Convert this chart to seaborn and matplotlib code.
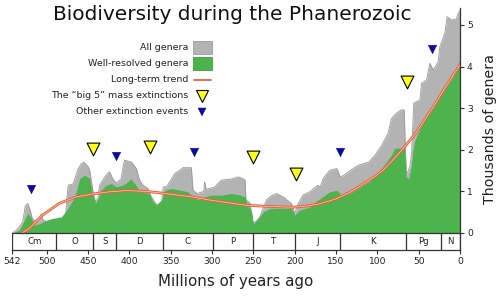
import matplotlib
matplotlib.use("Agg")
import matplotlib.pyplot as plt
import seaborn as sns
import numpy as np
from matplotlib.patches import Rectangle
from matplotlib.lines import Line2D

sns.set_style("white")
plt.rcParams['font.family'] = ['DejaVu Sans']

# ---- data (Ma, thousands of genera) ----
all_t = [542, 536, 533, 529, 526, 523, 520, 517.6, 515, 508, 506.6, 505, 500, 490, 482, 477, 476, 474,
         468, 462, 458, 455, 450, 448, 444, 441, 438, 436, 428, 424, 420, 416, 410, 408, 406, 397.6,
         391.6, 387.6, 383.6, 377.5, 373.4, 367, 361, 359, 355, 345, 335, 325, 323, 318, 310, 309, 307,
         297, 289, 276.5, 268.5, 262, 260, 259, 254, 250.4, 246, 242, 234, 228, 222, 214, 204, 200, 196,
         190, 182, 172, 169, 165.6, 157.5, 149, 145, 141, 133, 123, 110, 103, 95, 87, 83, 77, 71, 67.5,
         66, 64.5, 60.6, 58.5, 56, 48.5, 46.5, 40.5, 36.4, 32.4, 26.4, 24.4, 18.4, 15.6, 10.3, 4.3, 2.3, 0]
all_v = [0, 0.08, 0.15, 0.27, 0.65, 0.71, 0.55, 0.36, 0.3, 0.32, 0.47, 0.33, 0.27, 0.25, 0.3, 0.45, 0.75, 1.15,
         1.18, 1.55, 1.67, 1.7, 1.6, 1.5, 1.0, 0.75, 0.85, 1.15, 1.4, 1.47, 1.3, 1.2, 1.3, 1.55, 1.75, 1.71,
         1.55, 1.27, 1.15, 1.07, 0.87, 0.67, 0.75, 1.11, 1.11, 1.43, 1.57, 1.57, 1.03, 0.95, 1.0, 1.23, 1.05,
         1.1, 1.27, 1.3, 1.35, 1.3, 1.27, 0.8, 0.72, 0.23, 0.3, 0.4, 0.8, 0.9, 0.95, 0.87, 0.71, 0.47, 0.7,
         0.91, 0.99, 1.15, 1.11, 1.31, 1.51, 1.55, 1.35, 1.38, 1.5, 1.63, 1.71, 1.87, 2.1, 2.4, 2.75, 2.88, 2.96, 2.96,
         1.92, 1.4, 1.6, 1.95, 3.12, 3.2, 3.6, 3.68, 4.08, 3.92, 4.12, 4.48, 4.8, 5.2, 5.12, 5.15, 5.28, 5.35]

well_t = [542, 533, 528, 523, 519, 515, 509, 500, 493, 482, 476, 472, 466, 460, 454, 448, 445, 441, 437,
          434, 428, 422, 416, 408, 402, 398, 394, 388, 382, 376, 371.5, 367, 361, 357, 349, 339, 329, 323,
          317, 309, 301, 289, 276.5, 266, 260, 258, 252, 250, 246, 238, 230, 218, 204, 200, 194, 182, 175,
          169, 157.5, 149, 143, 133, 121, 110, 93.5, 83, 79, 67, 65.5, 62, 59, 57, 54.5, 48.5, 36.4, 28,
          16, 8, 2, 0]
well_v = [0, 0.07, 0.27, 0.47, 0.37, 0.19, 0.22, 0.31, 0.35, 0.39, 0.55, 0.67, 0.87, 1.31, 1.39, 1.31, 0.95, 0.71, 0.87,
          1.03, 1.15, 1.19, 1.11, 1.15, 1.23, 1.3, 1.2, 1.03, 0.97, 0.95, 0.75, 0.67, 0.8, 1.03, 1.07, 1.03, 0.99, 0.87,
          0.8, 0.87, 0.91, 0.91, 0.95, 0.91, 0.87, 0.72, 0.5, 0.23, 0.3, 0.51, 0.59, 0.59, 0.59, 0.43, 0.55, 0.62, 0.75,
          0.83, 0.99, 1.03, 0.9, 0.95, 1.1, 1.23, 1.59, 1.87, 2.04, 2.04, 1.35, 1.3, 1.6, 2.0, 2.23, 2.5, 2.96, 3.2,
          3.52, 3.76, 4.08, 4.2]

trend_t = [530, 521, 505, 485, 464, 444, 424, 403, 380, 365, 345, 325, 305, 285, 260, 242, 220, 202, 185,
           170, 150, 133, 121, 105, 93, 80, 67, 52, 32, 12, 0]
trend_v = [0, 0.11, 0.43, 0.71, 0.87, 0.94, 0.99, 1.02, 1.0, 0.97, 0.92, 0.87, 0.80, 0.74, 0.67, 0.65, 0.63,
           0.62, 0.65, 0.70, 0.82, 0.98, 1.13, 1.33, 1.51, 1.78, 2.07, 2.44, 3.04, 3.68, 4.04]

big5_t = [444, 374.6, 250.4, 199, 64.5]
big5_v = [2.03, 2.06, 1.82, 1.42, 3.64]
other_t = [518.7, 415.8, 322, 145.4, 33.6]
other_v = [1.05, 1.85, 1.94, 1.94, 4.42]

periods = ["Cm", "O", "S", "D", "C", "P", "T", "J", "K", "Pg", "N"]
period_bounds = [542, 488.3, 443.7, 416, 359.2, 299, 251, 199.6, 145.5, 65.5, 23, 0]
xticks = [542, 500, 450, 400, 350, 300, 250, 200, 150, 100, 50, 0]
yticks = [0, 1, 2, 3, 4, 5]

GRAY = "#b3b3b3"
GRAY_EDGE = "#999999"
GREEN = "#4db34d"
TREND = "#e8613c"
TREND_IN = "#f6c3a0"
YELLOW = "#ffff1a"
BLUE = "#0a0aa0"

W, H = 500, 296
fig = plt.figure(figsize=(W / 100, H / 100), dpi=100)
ax_top_px, ax_bot_px = 8, 250
ax = fig.add_axes([12 / W, 1 - ax_bot_px / H, 448 / W, (ax_bot_px - ax_top_px) / H])
ymin = -(250 - 233) / 41.6
ymax = (233 - ax_top_px) / 41.6

ax.fill_between(all_t, all_v, 0, color=GRAY, lw=0, zorder=1)
ax.plot(all_t, all_v, color=GRAY_EDGE, lw=0.6, zorder=1.5)
ax.fill_between(well_t, well_v, 0, color=GREEN, lw=0, zorder=2)

sns.lineplot(x=trend_t, y=trend_v, color=TREND, lw=2.0, ax=ax, zorder=3)
sns.lineplot(x=trend_t, y=trend_v, color=TREND_IN, lw=0.6, ax=ax, zorder=3.1)

sns.scatterplot(x=big5_t, y=big5_v, marker="v", s=85, color=YELLOW, edgecolor="black",
                linewidth=0.8, ax=ax, zorder=4)
sns.scatterplot(x=other_t, y=other_v, marker="v", s=38, color=BLUE, edgecolor=BLUE,
                linewidth=0.3, ax=ax, zorder=4)

# time scale boxes
ax.axhline(0, color="#333333", lw=0.9, zorder=5)
for i, name in enumerate(periods):
    a, b = period_bounds[i], period_bounds[i + 1]
    ax.plot([b, b], [ymin, 0], color="#333333", lw=0.9, zorder=5)
    ax.text((a + b) / 2, ymin / 2, name, ha="center", va="center", fontsize=6.2, color="#222222")
ax.plot([542, 542], [ymin, 0], color="#333333", lw=0.9, zorder=5)

ax.set_xlim(542, 0)
ax.set_ylim(ymin, ymax)
ax.set_xticks(xticks)
ax.set_xticklabels([str(x) for x in xticks])
ax.yaxis.tick_right()
ax.yaxis.set_label_position("right")
ax.set_yticks(yticks)
ax.tick_params(axis="both", labelsize=6.6, length=3, width=0.8, color="#333333",
               labelcolor="#222222", pad=2, direction="out")
ax.tick_params(axis="x", bottom=True)
ax.tick_params(axis="y", right=True, left=False)
for s in ["left", "top"]:
    ax.spines[s].set_visible(False)
for s in ["right", "bottom"]:
    ax.spines[s].set_color("#333333")
    ax.spines[s].set_linewidth(0.9)
ax.set_xlabel("Millions of years ago", fontsize=10.8, color="#222222", labelpad=6)
ax.set_ylabel("Thousands of genera", fontsize=10.2, color="#222222", labelpad=7)
ax.patch.set_alpha(0)

fig.text(232 / W, 1 - 15 / H, "Biodiversity during the Phanerozoic", ha="center", va="center",
         fontsize=14.5, color="#111111")

# manual legend
def fx(px):
    return px / W

def fy(py):
    return 1 - py / H

labels = ["All genera", "Well-resolved genera", "Long-term trend",
          "The \u201cbig 5\u201d mass extinctions", "Other extinction events"]
rows = [47, 63, 79, 95, 111]
for lab, r in zip(labels, rows):
    fig.text(fx(188), fy(r), lab, ha="right", va="center", fontsize=6.8, color="#222222")
fig.add_artist(Rectangle((fx(193), fy(54)), 19 / W, 13 / H, transform=fig.transFigure,
                         fc=GRAY, ec=GRAY_EDGE, lw=0.6))
fig.add_artist(Rectangle((fx(193), fy(70)), 19 / W, 13 / H, transform=fig.transFigure,
                         fc=GREEN, ec="#3d9a3d", lw=0.6))
fig.add_artist(Line2D([fx(194), fx(211)], [fy(80), fy(80)], transform=fig.transFigure,
                      color=TREND, lw=1.3))
fig.add_artist(Line2D([fx(201.5)], [fy(96)], transform=fig.transFigure, marker="v",
                      markersize=9, mfc=YELLOW, mec="black", mew=0.8, ls="none"))
fig.add_artist(Line2D([fx(201.5)], [fy(112)], transform=fig.transFigure, marker="v",
                      markersize=6, mfc=BLUE, mec=BLUE, mew=0.3, ls="none"))

fig.savefig("out.png", dpi=100)
